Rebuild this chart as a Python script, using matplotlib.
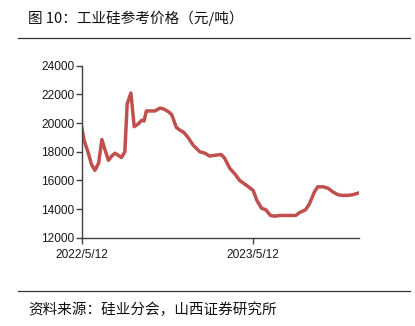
import matplotlib.pyplot as plt
import matplotlib.dates as mdates
from matplotlib.lines import Line2D
import pandas as pd

# 工业硅参考价格（元/吨），周度
dates = pd.to_datetime([
    "2022-05-12", "2022-05-17", "2022-05-26", "2022-06-02", "2022-06-09",
    "2022-06-17", "2022-06-24", "2022-07-01", "2022-07-08", "2022-07-15",
    "2022-07-22", "2022-07-29", "2022-08-05", "2022-08-12", "2022-08-17",
    "2022-08-25", "2022-09-01", "2022-09-10", "2022-09-17", "2022-09-22",
    "2022-09-27", "2022-10-05", "2022-10-15", "2022-10-26", "2022-11-02",
    "2022-11-13", "2022-11-20", "2022-11-30", "2022-12-08", "2022-12-16",
    "2022-12-25", "2023-01-05", "2023-01-19", "2023-01-30", "2023-02-09",
    "2023-02-20", "2023-03-03", "2023-03-06", "2023-03-13", "2023-03-24",
    "2023-04-04", "2023-04-14", "2023-04-29", "2023-05-13", "2023-05-21",
    "2023-05-31", "2023-06-09", "2023-06-19", "2023-06-28", "2023-07-09",
    "2023-07-19", "2023-07-30", "2023-08-12", "2023-08-20", "2023-09-02",
    "2023-09-10", "2023-09-21", "2023-09-28", "2023-10-10", "2023-10-20",
    "2023-10-30", "2023-11-10", "2023-11-20", "2023-12-01", "2023-12-12",
    "2023-12-22",
])
prices = [
    19700, 18800, 17900, 17100, 16700,
    17200, 18850, 18100, 17400, 17700,
    17900, 17750, 17600, 18000, 21350,
    22100, 19750, 19950, 20200, 20150,
    20850, 20850, 20850, 21050, 21000,
    20800, 20600, 19700, 19500, 19350,
    19000, 18450, 18000, 17900, 17700,
    17750, 17800, 17800, 17550, 16850,
    16450, 16000, 15650, 15300, 14600,
    14050, 13950, 13550, 13500, 13550,
    13550, 13550, 13550, 13750, 13950,
    14350, 15200, 15550, 15550, 15450,
    15200, 15000, 14950, 14950, 15000,
    15100,
]
x_ticks = pd.to_datetime(["2022-05-12", "2023-05-12"])
x_start, x_end = pd.Timestamp("2022-05-12"), pd.Timestamp("2023-12-25")
y_ticks = [12000, 14000, 16000, 18000, 20000, 22000, 24000]

cjk = ["Noto Sans CJK SC", "DejaVu Sans"]

fig = plt.figure(figsize=(4.15, 3.26), dpi=100)
ax = fig.add_axes([0.197, 0.271, 0.668, 0.527])

ax.plot(dates, prices, color="#C0504D", linewidth=2.5, solid_joinstyle="round")

ax.set_xlim(x_start, x_end)
ax.set_ylim(12000, 24000)
ax.set_yticks(y_ticks)
ax.set_xticks(x_ticks)
ax.xaxis.set_major_formatter(mdates.DateFormatter("%Y/%-m/%d"))

for side in ("top", "right"):
    ax.spines[side].set_visible(False)
for side in ("left", "bottom"):
    ax.spines[side].set_color("#404040")
    ax.spines[side].set_linewidth(1.0)
ax.tick_params(axis="both", direction="out", length=4, width=1,
               color="#404040", labelsize=8.6, pad=1.5)
ax.tick_params(axis="x", pad=4)
for lab in ax.get_xticklabels() + ax.get_yticklabels():
    lab.set_fontfamily("Liberation Sans")
    lab.set_color("#1a1a1a")

# 标题、来源与分隔线
fig.text(28 / 415, 1 - 18 / 326, "图 10：工业硅参考价格（元/吨）",
         family=cjk, fontsize=10.5, va="center", ha="left", color="#111111")
fig.text(28 / 415, 1 - 310 / 326, "资料来源：硅业分会，山西证券研究所",
         family=cjk, fontsize=10.5, va="center", ha="left", color="#111111")
for yy in (38.3, 290.7):
    fig.add_artist(Line2D([18 / 415, 410 / 415], [1 - yy / 326, 1 - yy / 326],
                          color="#333333", linewidth=0.9))

fig.savefig("out.png", dpi=100)
